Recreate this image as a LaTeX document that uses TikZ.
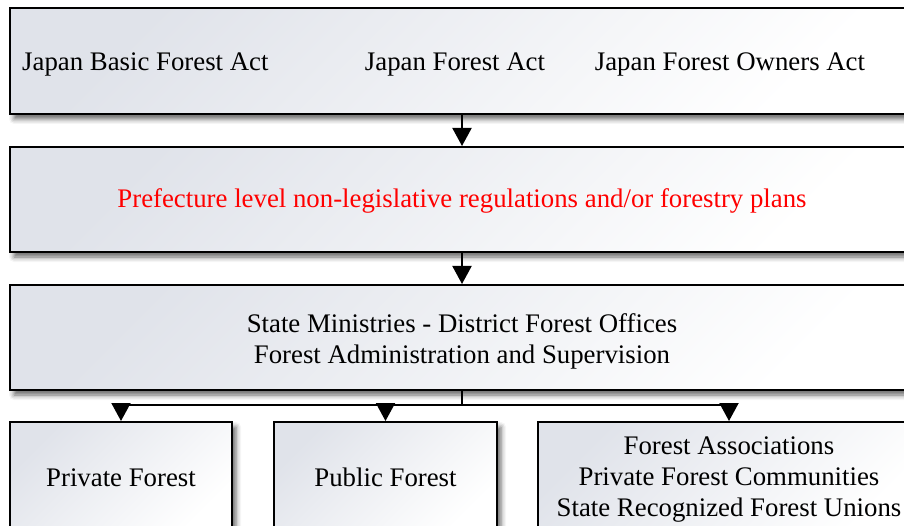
\documentclass[tikz,border=0pt]{standalone}
\usepackage{fontspec}
\setmainfont{Liberation Serif}
\usetikzlibrary{arrows.meta,shadows.blur}
\definecolor{boxgray}{RGB}{224,227,234}
\definecolor{regred}{RGB}{255,0,0}

\begin{document}
\begin{tikzpicture}%
        [x=1pt, y=-1pt,
        font=\fontsize{26.8}{31}\selectfont,
        panel/.style={draw=black, line width=2pt, inner sep=0pt,
                top color=boxgray, bottom color=white, shading angle=45,
                blur shadow={shadow xshift=4pt, shadow yshift=-5pt,
                        shadow blur radius=5pt, shadow opacity=60}},
        flow/.style={line width=2pt, -{Triangle[length=18pt,width=19pt]}},
        lawtext/.style={anchor=base, inner sep=0pt}]

    \useasboundingbox (0,0) rectangle (904,526);
    \clip (0,0) rectangle (904,526);

    %% Drawing the boxes
    \node[panel, minimum width=904pt, minimum height=106pt] (law) at (462,61) {};
    \node[panel, minimum width=904pt, minimum height=105pt] (reg) at (462,199.5) {};
    \node[panel, minimum width=904pt, minimum height=105pt] (admin) at (462,337.5) {};
    \node[panel, minimum width=222pt, minimum height=110pt] (private) at (121,477) {};
    \node[panel, minimum width=223pt, minimum height=110pt] (public) at (385.5,477) {};
    \node[panel, minimum width=382pt, minimum height=110pt] (assoc) at (729,477) {};

    %% Drawing the texts
    \node[lawtext, anchor=base west] (basic) at (22,71) {Japan Basic Forest Act};
    \node[lawtext] (forest) at (455,71) {Japan Forest Act};
    \node[lawtext] (owners) at (730,71) {Japan Forest Owners Act};
    \node[lawtext, text=regred] (plans) at (462,208) {Prefecture level non-legislative regulations and/or forestry plans};
    \node[align=center, inner sep=0pt] (offices) at (462,341) {State Ministries - District Forest Offices\\Forest Administration and Supervision};
    \node[lawtext] (privtext) at (121,486) {Private Forest};
    \node[lawtext] (pubtext) at (385.5,486) {Public Forest};
    \node[align=center, inner sep=0pt] (assoctext) at (729,479.5) {Forest Associations\\Private Forest Communities\\State Recognized Forest Unions};

    %% Drawing the connectors
    \coordinate (fork) at (462,405);
    \draw[flow] (law.south) -- (reg.north);
    \draw[flow] (reg.south) -- (admin.north);
    \draw[line width=2pt] (admin.south) -- (fork);
    \draw[flow] (fork) -| (private.north);
    \draw[flow] (fork) -| (public.north);
    \draw[flow] (fork) -| (assoc.north);
\end{tikzpicture}
\end{document}
